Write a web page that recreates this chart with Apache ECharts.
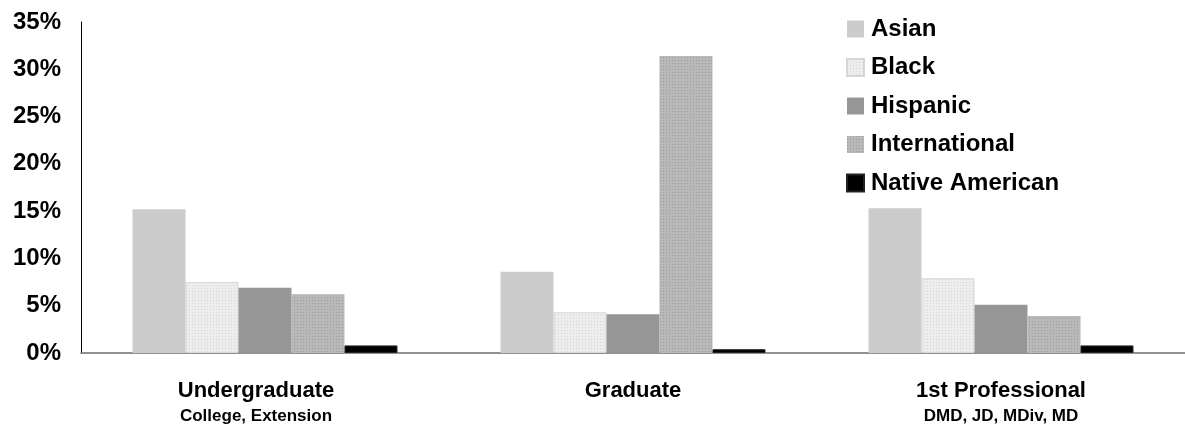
<!DOCTYPE html>
<html>
<head>
<meta charset="utf-8">
<script src="https://cdn.jsdelivr.net/npm/echarts@6/dist/echarts.min.js"></script>
<style>
html,body{margin:0;padding:0;background:#fff;}
#chart{width:1185px;height:429px;}
</style>
</head>
<body>
<div id="chart"></div>
<script>
var categories = ['Undergraduate', 'Graduate', '1st Professional'];
var subLabels = ['College, Extension', '', 'DMD, JD, MDiv, MD'];
var seriesNames = ['Asian', 'Black', 'Hispanic', 'International', 'Native American'];
var asian = [15.2, 8.6, 15.3];
var black = [7.5, 4.3, 7.9];
var hispanic = [6.9, 4.1, 5.1];
var international = [6.2, 31.4, 3.9];
var nativeAmerican = [0.8, 0.4, 0.8];
var yTicks = [0, 5, 10, 15, 20, 25, 30, 35];

function makePattern(bg, dot, size) {
  var c = document.createElement('canvas');
  c.width = size; c.height = size;
  var ctx = c.getContext('2d');
  ctx.fillStyle = bg; ctx.fillRect(0, 0, size, size);
  ctx.fillStyle = dot; ctx.fillRect(0, 0, 1, 1);
  return {image: c, repeat: 'repeat'};
}

var blackPattern = makePattern('#ededed', '#d6d6d6', 3);
var intlPattern = makePattern('#b8b8b8', '#9e9e9e', 3);

var FONT = 'Liberation Sans, Arial, sans-serif';

var chart = echarts.init(document.getElementById('chart'));
var option = {
  animation: false,
  backgroundColor: '#ffffff',
  grid: {left: 81, top: 22, width: 1115, height: 331, containLabel: false},
  legend: {
    orient: 'vertical',
    left: 846,
    top: 17,
    padding: 0,
    itemWidth: 17,
    itemHeight: 17,
    itemGap: 14.5,
    icon: 'rect',
    textStyle: {fontFamily: FONT, fontWeight: 'bold', fontSize: 24, color: '#000', lineHeight: 24, padding: [0, 0, 0, 2]},
    data: seriesNames
  },
  xAxis: {
    type: 'category',
    data: categories,
    axisLine: {show: true, lineStyle: {color: '#6e6e6e', width: 1.5}},
    axisTick: {show: false},
    axisLabel: {
      margin: 25,
      interval: 0,
      formatter: function (v, i) {
        var k = i === 0 ? '0' : '';
        var s = '{a' + k + '|' + v + '}';
        if (subLabels[i]) s += '\n{b' + k + '|' + subLabels[i] + '}';
        return s;
      },
      rich: {
        a: {fontFamily: FONT, fontWeight: 'bold', fontSize: 22, color: '#000', lineHeight: 26},
        b: {fontFamily: FONT, fontWeight: 'bold', fontSize: 17, color: '#000', lineHeight: 24},
        a0: {fontFamily: FONT, fontWeight: 'bold', fontSize: 22, color: '#000', lineHeight: 26, padding: [0, 18, 0, 0]},
        b0: {fontFamily: FONT, fontWeight: 'bold', fontSize: 17, color: '#000', lineHeight: 24, padding: [0, 18, 0, 0]}
      }
    }
  },
  yAxis: {
    type: 'value',
    min: yTicks[0],
    max: yTicks[yTicks.length - 1],
    interval: 5,
    splitLine: {show: false},
    axisTick: {show: false},
    axisLine: {show: true, lineStyle: {color: '#000', width: 1}},
    axisLabel: {
      formatter: '{value}%',
      margin: 20,
      fontFamily: FONT,
      fontWeight: 'bold',
      fontSize: 24,
      color: '#000'
    }
  },
  series: [
    {name: 'Asian', type: 'bar', data: asian, barGap: '0%', barCategoryGap: '28%',
     itemStyle: {color: '#cccccc'}},
    {name: 'Black', type: 'bar', data: black,
     itemStyle: {color: blackPattern, borderColor: '#d6d6d6', borderWidth: 1}},
    {name: 'Hispanic', type: 'bar', data: hispanic,
     itemStyle: {color: '#969696'}},
    {name: 'International', type: 'bar', data: international,
     itemStyle: {color: intlPattern}},
    {name: 'Native American', type: 'bar', data: nativeAmerican,
     itemStyle: {color: '#000000', borderColor: '#222', borderWidth: 1}}
  ]
};
chart.setOption(option);
</script>
</body>
</html>
